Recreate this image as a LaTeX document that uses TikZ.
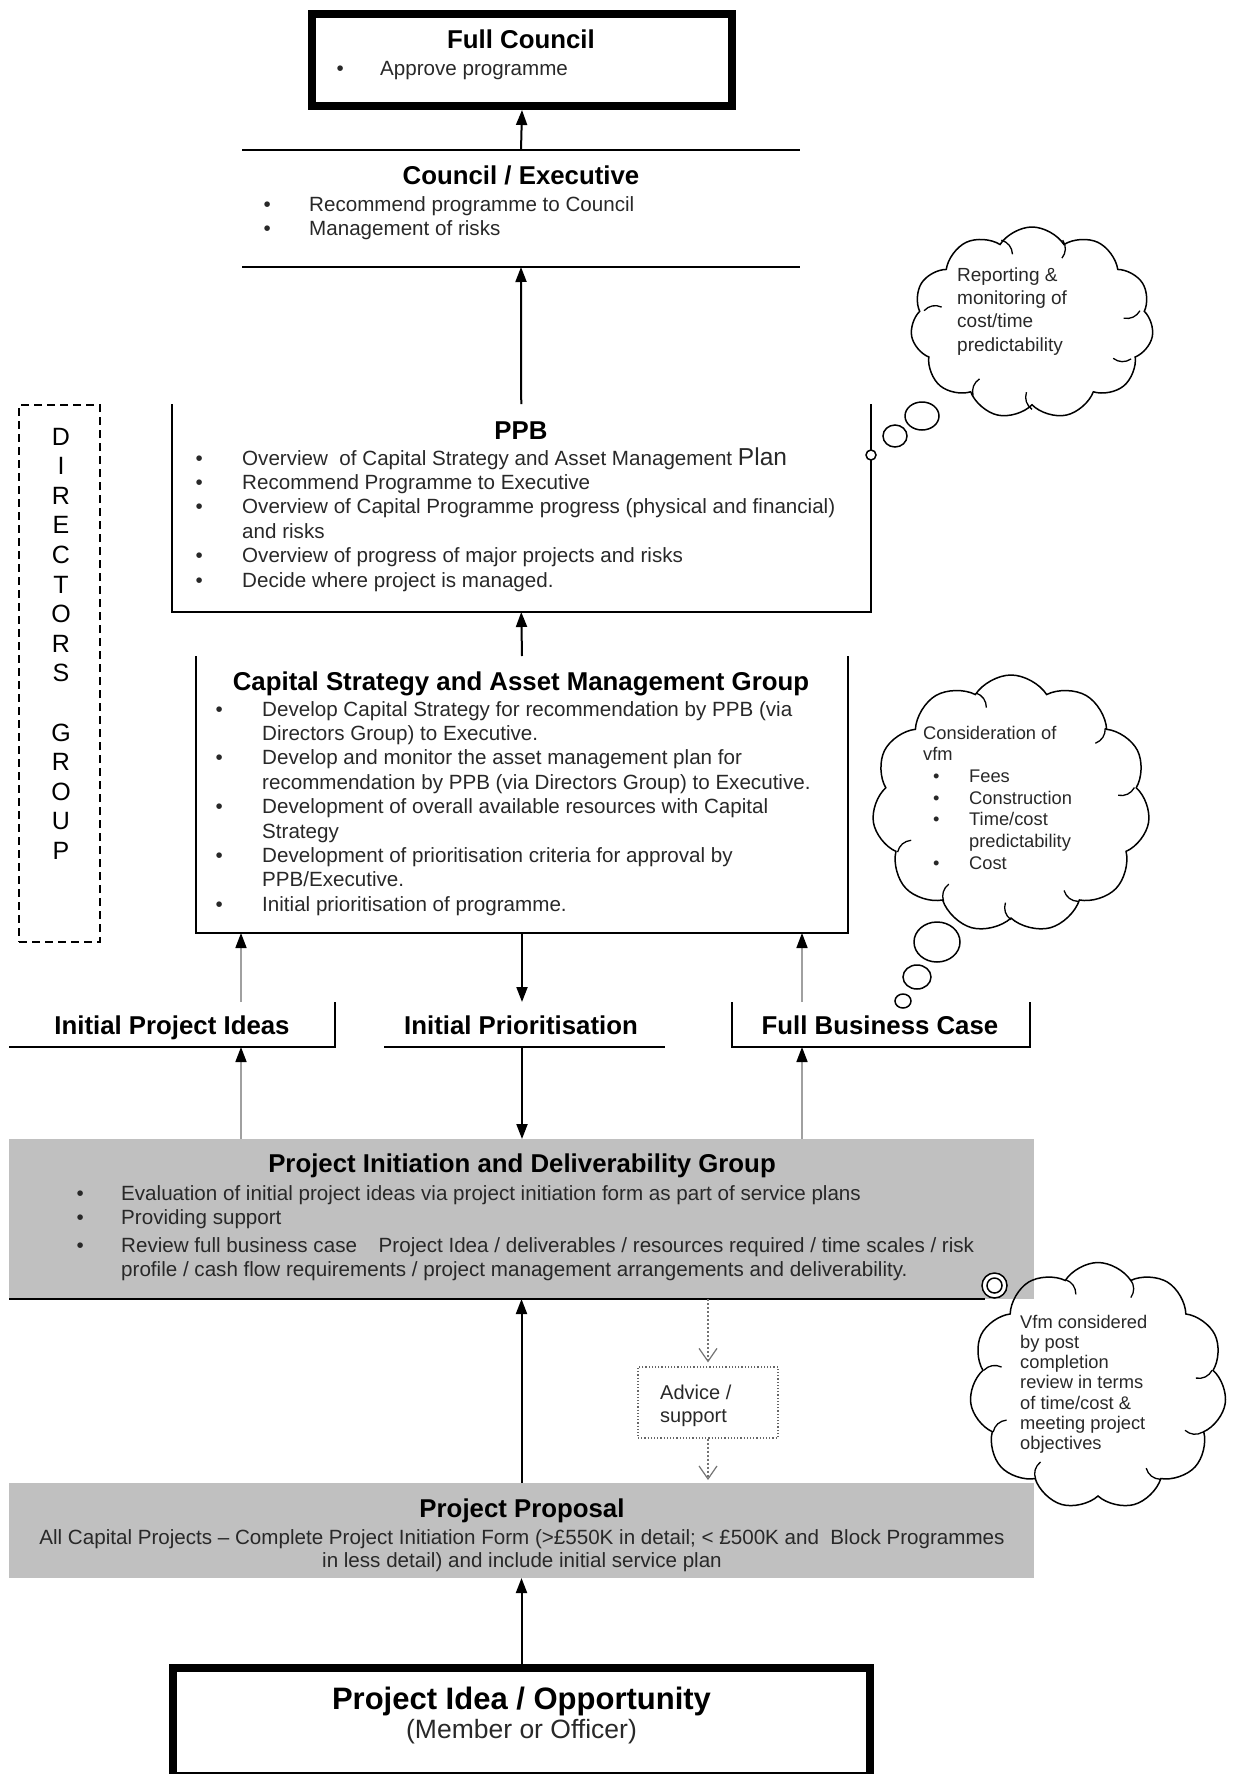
\documentclass[tikz,border=0pt]{standalone}
\usepackage{fontspec}
\setmainfont{Liberation Sans}
\usetikzlibrary{arrows.meta,shapes.symbols,calc}

\definecolor{panelgray}{RGB}{192,192,192}
\definecolor{linkgray}{RGB}{160,160,160}
\definecolor{bodyink}{RGB}{40,40,40}

\newcommand\ttlfont{\fontsize{25.8}{30}\selectfont\bfseries}
\newcommand\txtfont{\fontsize{20.6}{24.4}\selectfont}
\newcommand\bmark[1][44pt]{\makebox[#1][l]{\textbullet}}
\newcommand\bgap[1][44pt]{\hspace*{#1}}
\newcommand\textrows[1]{\begin{tabular}[t]{@{}l@{}}#1\end{tabular}}
\newcommand\colrows[1]{\begin{tabular}[t]{@{}c@{}}#1\end{tabular}}
% short inner strokes where neighbouring puffs of a cloud meet
\newcommand\puffseams[2]{%
  \foreach \a/\b in {#2}
    \draw[seam] ($(#1.center)!0.93!($(#1.puff \a)!0.5!(#1.puff \b)$)$) coordinate (seamstart)
      to[bend left=35] ($(seamstart)!18pt!18:(#1.center)$);}

\begin{document}
\begin{tikzpicture}[x=1pt,y=-1pt,
  frame/.style={rectangle, draw=none, inner sep=0pt, outer sep=0pt},
  heavy/.style={rectangle, draw, line width=8pt, inner sep=0pt},
  panel/.style={rectangle, fill=panelgray, inner sep=0pt, outer sep=0pt},
  rule/.style={line width=2pt},
  ttl/.style={inner sep=0pt, anchor=base, font=\ttlfont},
  lst/.style={inner sep=0pt, anchor=base west, font=\txtfont, text=bodyink},
  arr/.style={line width=2pt, -{Triangle[width=11pt,length=15pt]}},
  garr/.style={draw=linkgray, line width=1.6pt, -{Triangle[width=11pt,length=15pt,color=black]}},
  darr/.style={draw=black!55, line width=1.2pt, dash pattern=on 2pt off 2pt,
    -{Straight Barb[width=18pt,length=13pt,line width=1.2pt]}},
  bubble/.style={cloud, draw, line width=1.5pt, cloud puffs=11, cloud puff arc=115, inner sep=0pt},
  seam/.style={line width=1.3pt},
  tail/.style={draw, fill=white, line width=1.5pt},
]
\useasboundingbox (0,0) rectangle (1234,1774);

% ---------- Full Council ----------
\node[heavy, minimum width=420pt, minimum height=92pt] (fc) at (522,60) {};
\node[ttl] (fcT) at (521,49) {Full Council};
\node[lst] (fcL) at (336.5,76) {\textrows{\bmark[43.5pt]Approve programme}};

% ---------- Council / Executive ----------
\node[frame, minimum width=558pt, minimum height=117pt] (ce) at (521,208.5) {};
\draw[rule] (ce.north west) -- (ce.north east);
\draw[rule] (ce.south west) -- (ce.south east);
\node[ttl] (ceT) at (521,184) {Council / Executive};
\node[lst] (ceL) at (263.5,211.5) {\textrows{\bmark[45.5pt]Recommend programme to Council\\
  \bmark[45.5pt]Management of risks}};

% ---------- PPB ----------
\node[frame, minimum width=699.5pt, minimum height=208pt] (ppb) at (521.25,508) {};
\draw[rule] (ppb.north west) -- (ppb.south west) -- (ppb.south east) -- (ppb.north east);
\node[ttl] (ppbT) at (521,439) {PPB};
\node[lst] (ppbL) at (195.5,465) {\textrows{%
  \bmark[46.5pt]Overview~ of Capital Strategy and Asset Management {\fontsize{24.5}{24.4}\selectfont Plan}\\
  \bmark[46.5pt]Recommend Programme to Executive\\
  \bmark[46.5pt]Overview of Capital Programme progress (physical and financial)\\
  \bgap[46.5pt]and risks\\
  \bmark[46.5pt]Overview of progress of major projects and risks\\
  \bmark[46.5pt]Decide where project is managed.}};

% ---------- Capital Strategy and Asset Management Group ----------
\node[frame, minimum width=652pt, minimum height=277pt] (cs) at (522,794.5) {};
\draw[rule] (cs.north west) -- (cs.south west) -- (cs.south east) -- (cs.north east);
\node[ttl] (csT) at (521,690) {Capital Strategy and Asset Management Group};
\node[lst] (csL) at (215.5,716) {\textrows{%
  \bmark[46.5pt]Develop Capital Strategy for recommendation by PPB (via\\
  \bgap[46.5pt]Directors Group) to Executive.\\
  \bmark[46.5pt]Develop and monitor the asset management plan for\\
  \bgap[46.5pt]recommendation by PPB (via Directors Group) to Executive.\\
  \bmark[46.5pt]Development of overall available resources with Capital\\
  \bgap[46.5pt]Strategy\\
  \bmark[46.5pt]Development of prioritisation criteria for approval by\\
  \bgap[46.5pt]PPB/Executive.\\
  \bmark[46.5pt]Initial prioritisation of programme.}};

% ---------- Directors Group ----------
\node[frame, draw, line width=2pt, dash pattern=on 8pt off 5pt,
  minimum width=81pt, minimum height=537pt] (dg) at (59.5,673.5) {};
\node[inner sep=0pt, anchor=base, font=\fontsize{25}{29.6}\selectfont] (dgT) at (61,445)
  {\colrows{D\\I\\R\\E\\C\\T\\O\\R\\S\\ \\G\\R\\O\\U\\P}};

% ---------- Stage labels ----------
\node[frame, minimum width=326pt, minimum height=45pt] (ipi) at (172,1024.5) {};
\draw[rule] (ipi.south west) -- (ipi.south east) -- (ipi.north east);
\node[ttl] (ipiT) at (172,1034) {Initial Project Ideas};

\node[frame, minimum width=281pt, minimum height=45pt] (ip) at (524.5,1024.5) {};
\draw[rule] (ip.south west) -- (ip.south east);
\node[ttl] (ipT) at (521,1034) {Initial Prioritisation};

\node[frame, minimum width=298pt, minimum height=45pt] (fbc) at (881,1024.5) {};
\draw[rule] (fbc.north west) -- (fbc.south west) -- (fbc.south east) -- (fbc.north east);
\node[ttl] (fbcT) at (880,1034) {Full Business Case};

\coordinate (lcol) at (241,0);
\coordinate (rcol) at (802,0);

% ---------- Project Initiation and Deliverability Group ----------
\node[panel, minimum width=1025pt, minimum height=160pt] (pidg) at (521.5,1219) {};
\node[ttl] (pidgT) at (522,1172) {Project Initiation and Deliverability Group};
\node[lst] (pidgL) at (76.5,1200) {\textrows{%
  \bmark[44.5pt]Evaluation of initial project ideas via project initiation form as part of service plans\\
  \bmark[44.5pt]Providing support\\[3.5pt]
  \bmark[44.5pt]Review full business case\hspace{16pt} Project Idea / deliverables / resources required / time scales / risk\\
  \bgap[44.5pt]profile / cash flow requirements / project management arrangements and deliverability.}};

% ---------- Project Proposal ----------
\node[panel, minimum width=1025pt, minimum height=95pt] (pp) at (521.5,1530.5) {};
\node[ttl] (ppT) at (522,1517) {Project Proposal};
\node[inner sep=0pt, anchor=base, font=\fontsize{20.6}{23}\selectfont, text=bodyink] (ppL) at (522,1544)
  {\colrows{All Capital Projects -- Complete Project Initiation Form (>£550K in detail; < £500K and~ Block Programmes\\
  in less detail) and include initial service plan}};

% ---------- Advice / support ----------
\node[rectangle, draw=black!60, dotted, line width=1.2pt, inner sep=0pt,
  minimum width=140pt, minimum height=71pt] (adv) at (708,1402.5) {};
\node[lst, font=\fontsize{20}{23}\selectfont] (advT) at (660,1399) {\textrows{Advice /\\support}};

% ---------- Project Idea / Opportunity ----------
\node[heavy, minimum width=697pt, minimum height=108pt] (pi) at (521.5,1722) {};
\node[inner sep=0pt, anchor=base, font=\fontsize{31}{34}\selectfont\bfseries] (piT) at (521.5,1709) {Project Idea / Opportunity};
\node[inner sep=0pt, anchor=base, font=\fontsize{26.5}{30}\selectfont, text=bodyink] (piS) at (521.5,1738) {(Member or Officer)};

% ---------- Thought clouds ----------
\node[bubble, minimum width=243pt, minimum height=192pt] (c1) at (1032,323) {};
\puffseams{c1}{1/2,3/4,5/6,6/7,8/9,9/10,11/1}
\node[lst, font=\fontsize{19}{23.4}\selectfont] (c1T) at (957,281)
  {\textrows{Reporting \&\\monitoring of\\cost/time\\predictability}};
\draw[tail] (922,416) ellipse [x radius=17, y radius=14];
\draw[tail] (895,436) ellipse [x radius=12, y radius=11];
\draw[tail] (ppb.east |- 0,455) circle [radius=5];

\node[bubble, minimum width=278pt, minimum height=258pt] (c2) at (1011,804) {};
\puffseams{c2}{1/2,4/5,5/6,6/7,7/8,9/10,10/11}
\node[lst, font=\fontsize{18.3}{21.7}\selectfont] (c2T) at (923,739)
  {\textrows{Consideration of\\vfm\\
  \hspace*{10pt}\bmark[36pt]Fees\\
  \hspace*{10pt}\bmark[36pt]Construction\\
  \hspace*{10pt}\bmark[36pt]Time/cost\\
  \hspace*{10pt}\bgap[36pt]predictability\\
  \hspace*{10pt}\bmark[36pt]Cost}};
\draw[tail] (937,942) ellipse [x radius=23, y radius=20];
\draw[tail] (917,977) ellipse [x radius=14, y radius=12];
\draw[tail] (903,1001) ellipse [x radius=8, y radius=7];

\node[bubble, minimum width=257pt, minimum height=247pt] (c3) at (1098,1386) {};
\puffseams{c3}{1/2,3/4,4/5,5/6,7/8,8/9,9/10,11/1}
\node[lst, font=\fontsize{18.3}{20.3}\selectfont] (c3T) at (1020,1328)
  {\textrows{Vfm considered\\by post\\completion\\review in terms\\of time/cost \&\\meeting project\\objectives}};
\node[circle, draw, fill=white, line width=1.5pt, inner sep=0pt, minimum size=25pt] (t3a) at (994.5,1285.5) {};
\draw[line width=1.5pt] (t3a) circle [radius=7.5];
\draw[line width=2.5pt] (pidg.south west) -- (pidg.south west -| t3a.south west);

% ---------- Connectors ----------
\draw[arr] (ce.north) -- (fc.south);
\draw[arr] (ppb.north) -- (ce.south);
\draw[arr] (cs.north) -- (ppb.south);
\draw[garr] (lcol |- ipi.north) -- (lcol |- cs.south);
\draw[arr] (cs.south) -- (cs.south |- ip.north);
\draw[garr] (rcol |- fbc.north) -- (rcol |- cs.south);
\draw[garr] (lcol |- pidg.north) -- (lcol |- ipi.south);
\draw[arr] (cs.south |- ip.south) -- (cs.south |- pidg.north);
\draw[garr] (rcol |- pidg.north) -- (rcol |- fbc.south);
\draw[arr] (pp.north) -- (pp.north |- pidg.south);
\draw[darr, shorten >=4pt] (adv.north |- pidg.south) -- (adv.north);
\draw[darr, shorten >=3pt] (adv.south) -- (adv.south |- pp.north);
\draw[arr] (pi.north) -- (pi.north |- pp.south);
\end{tikzpicture}
\end{document}
